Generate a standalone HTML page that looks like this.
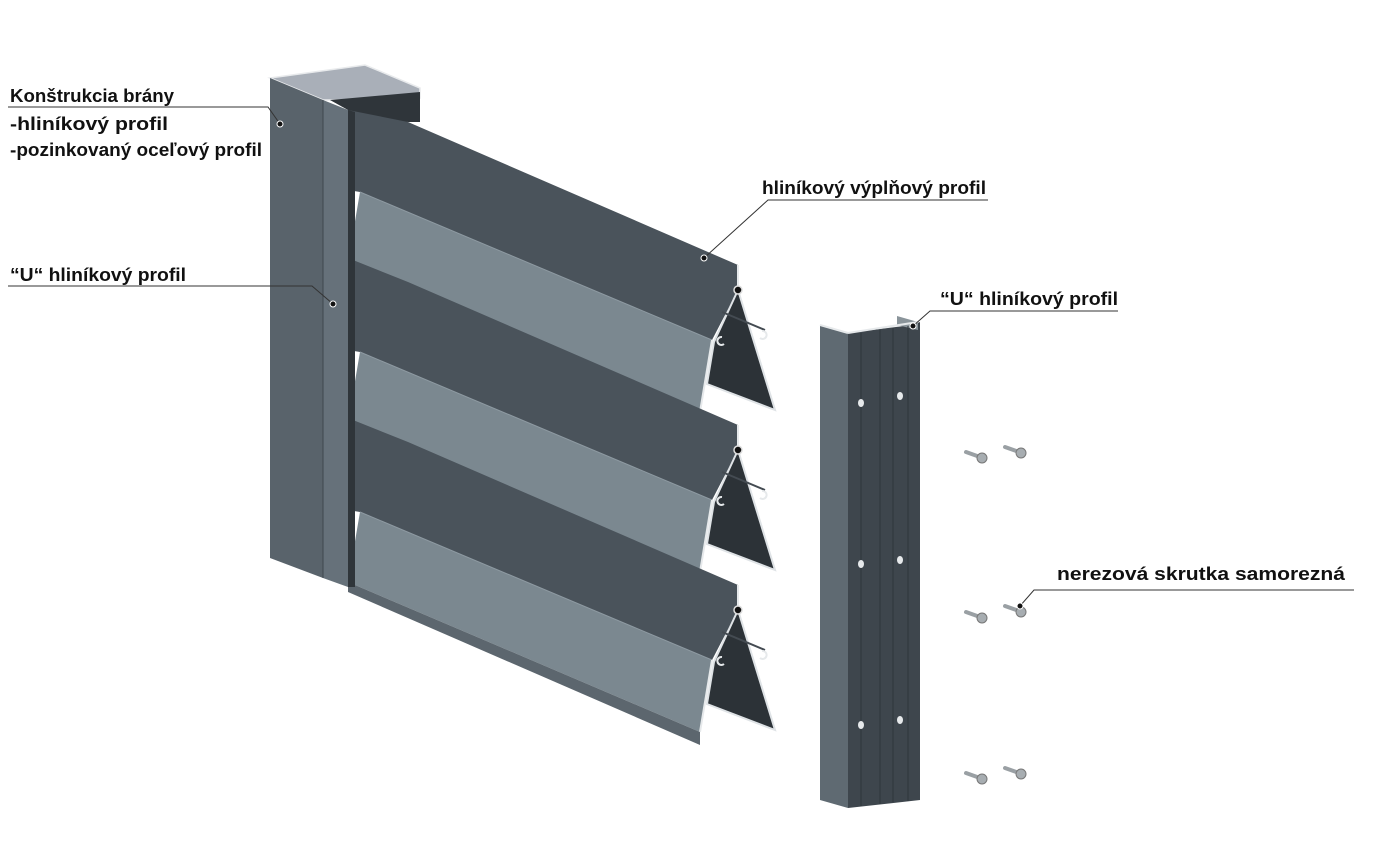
<!DOCTYPE html>
<html><head><meta charset="utf-8"><style>
html,body{margin:0;padding:0;background:#fff;}
svg{display:block}
text{font-family:"Liberation Sans",sans-serif;font-weight:bold;font-size:18px;fill:#111}
</style></head><body>
<svg width="1381" height="843" viewBox="0 0 1381 843" xmlns="http://www.w3.org/2000/svg">
<defs>
<g id="slat">
  <polygon points="348,98 408,122 738,265 738,290 712,340 360,192 348,190" fill="#4a535b"/>
  <polygon points="360,192 712,340 700,412 348,262" fill="#7b8890"/>
  <line x1="360" y1="192" x2="712" y2="340" stroke="#8e9aa2" stroke-width="1"/>
  <polygon points="738,290 775,410 707,384 714,342" fill="#2c3237" stroke="#dfe3e6" stroke-width="2"/>
  <line x1="712" y1="340" x2="700" y2="412" stroke="#e6e9eb" stroke-width="2"/>
  <line x1="738" y1="265" x2="738" y2="290" stroke="#e6e9eb" stroke-width="2"/>
  <line x1="722" y1="312" x2="765" y2="330" stroke="#444b52" stroke-width="2"/>
  <circle cx="738" cy="290" r="4" fill="#111" stroke="#ddd" stroke-width="1.5"/>
  <path d="M722,337 a4,4 0 1,0 2,7" fill="none" stroke="#e6e9eb" stroke-width="2"/>
  <path d="M762,331 a4,4 0 1,1 -2,7" fill="none" stroke="#e6e9eb" stroke-width="2"/>
</g>
<g id="screw">
  <line x1="0" y1="0" x2="14" y2="5" stroke="#9aa0a4" stroke-width="4" stroke-linecap="round"/>
  <circle cx="16" cy="6" r="5" fill="#a7adb1" stroke="#777" stroke-width="1"/>
</g>
</defs>

<use href="#slat"/>
<use href="#slat" transform="translate(0,160)"/>
<use href="#slat" transform="translate(0,320)"/>
<polygon points="348,582 700,732 700,745 348,592" fill="#5c666e"/>

<!-- post -->
<polygon points="270,78 365,65 420,88 420,98 348,100 323,100" fill="#a9afb8" stroke="#e8eaec" stroke-width="1.5"/>
<polygon points="330,100 420,92 420,122 408,122 348,110" fill="#2f353a"/>
<polygon points="270,78 323,100 323,578 270,558" fill="#59636b"/>
<polygon points="323,100 348,110 348,587 323,578" fill="#66717a"/>
<line x1="323" y1="100" x2="323" y2="578" stroke="#3f474e" stroke-width="1"/>
<polygon points="348,110 355,112 355,587 348,587" fill="#2f353a"/>

<!-- U profile -->
<polygon points="820,325 848,333 848,808 820,800" fill="#5f6a72"/>
<polygon points="848,333 912,325 920,322 920,800 848,808" fill="#3e464d"/>
<polygon points="897,316 918,322 918,330 897,325" fill="#8a949a"/>
<line x1="820" y1="325" x2="848" y2="333" stroke="#e6e9eb" stroke-width="2"/>
<line x1="848" y1="333" x2="918" y2="322" stroke="#e6e9eb" stroke-width="2"/>
<line x1="861" y1="333" x2="861" y2="806" stroke="#2f353a"/>
<line x1="880" y1="330" x2="880" y2="804" stroke="#2f353a"/>
<line x1="893" y1="328" x2="893" y2="802" stroke="#2f353a"/>
<line x1="908" y1="326" x2="908" y2="801" stroke="#2f353a"/>
<g fill="#e6e9eb">
<ellipse cx="861" cy="403" rx="3" ry="4"/><ellipse cx="900" cy="396" rx="3" ry="4"/>
<ellipse cx="861" cy="564" rx="3" ry="4"/><ellipse cx="900" cy="560" rx="3" ry="4"/>
<ellipse cx="861" cy="725" rx="3" ry="4"/><ellipse cx="900" cy="720" rx="3" ry="4"/>
</g>

<use href="#screw" transform="translate(966,452)"/>
<use href="#screw" transform="translate(1005,447)"/>
<use href="#screw" transform="translate(966,612)"/>
<use href="#screw" transform="translate(1005,606)"/>
<use href="#screw" transform="translate(966,773)"/>
<use href="#screw" transform="translate(1005,768)"/>

<g stroke="#333" stroke-width="1" fill="none">
<polyline points="8,107 268,107 280,124"/>
<polyline points="8,286 312,286 333,304"/>
<polyline points="988,200 768,200 704,258"/>
<polyline points="1118,311 930,311 913,326"/>
<polyline points="1354,590 1034,590 1020,606"/>
</g>
<g fill="#111" stroke="#fff" stroke-width="1">
<circle cx="280" cy="124" r="3"/><circle cx="333" cy="304" r="3"/><circle cx="704" cy="258" r="3"/>
<circle cx="913" cy="326" r="3"/><circle cx="1020" cy="606" r="3"/>
</g>
<text x="10" y="102" textLength="164" lengthAdjust="spacingAndGlyphs">Konštrukcia brány</text>
<text x="10" y="130" textLength="158" lengthAdjust="spacingAndGlyphs">-hliníkový profil</text>
<text x="10" y="156" textLength="252" lengthAdjust="spacingAndGlyphs">-pozinkovaný oceľový profil</text>
<text x="10" y="281" textLength="176" lengthAdjust="spacingAndGlyphs">“U“ hliníkový profil</text>
<text x="762" y="194" textLength="224" lengthAdjust="spacingAndGlyphs">hliníkový výplňový profil</text>
<text x="940" y="305" textLength="178" lengthAdjust="spacingAndGlyphs">“U“ hliníkový profil</text>
<text x="1057" y="580" textLength="288" lengthAdjust="spacingAndGlyphs">nerezová skrutka samorezná</text>
</svg>
</body></html>
